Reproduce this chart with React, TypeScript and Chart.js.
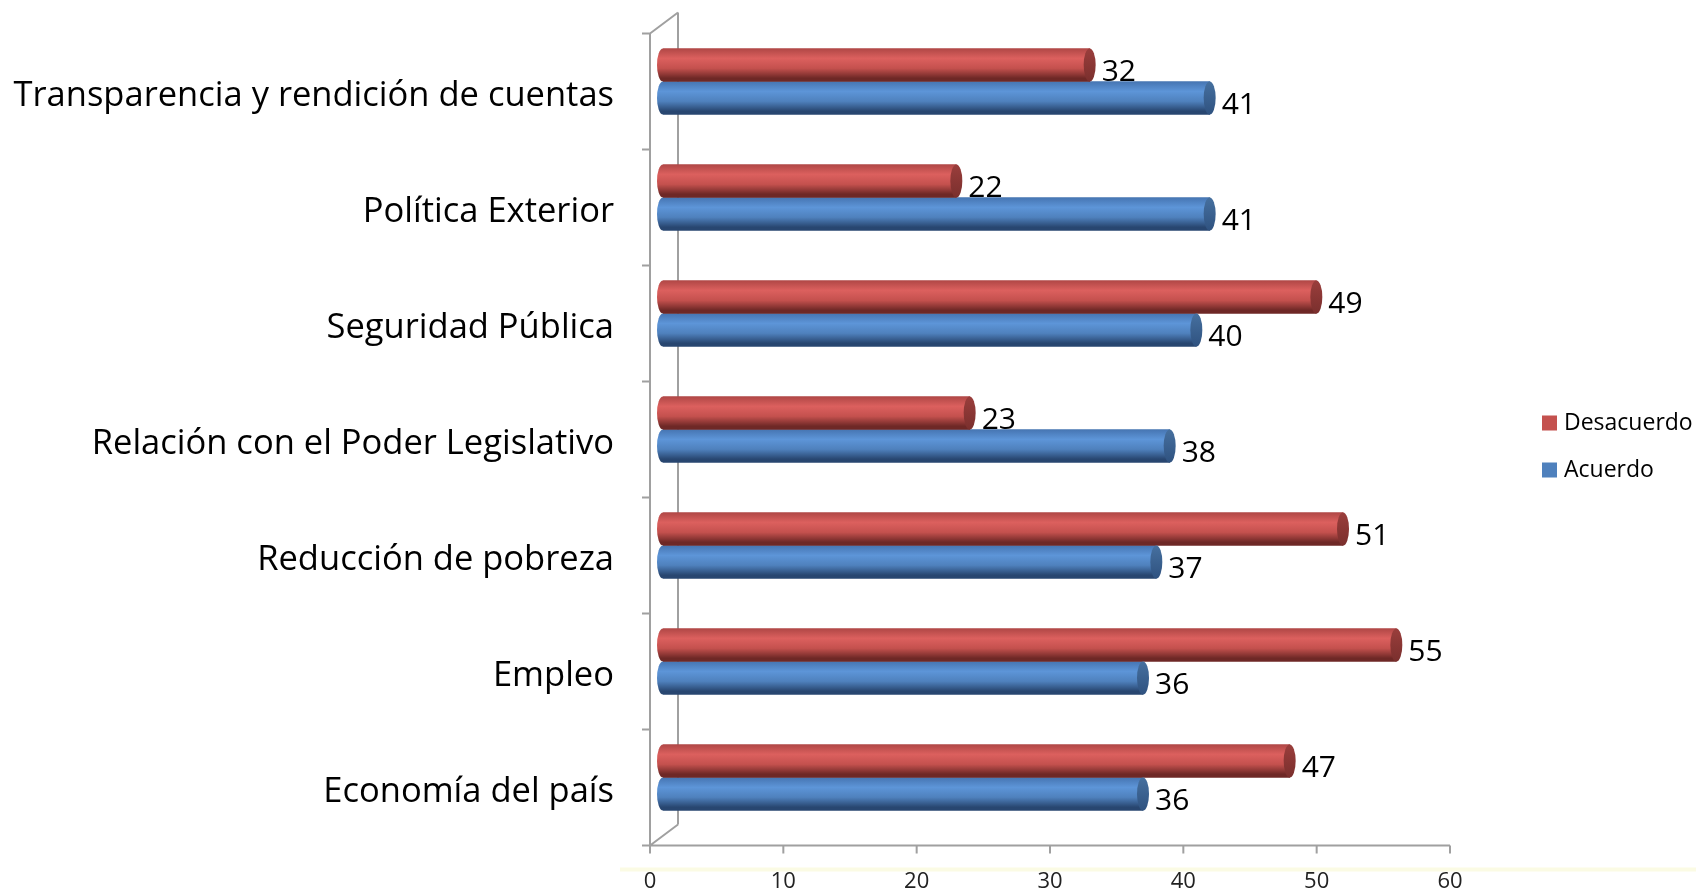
import React, { useEffect, useRef } from "react";
import { Chart, registerables } from "chart.js";

Chart.register(...registerables);

const categories = [
  "Transparencia y rendición de cuentas",
  "Política Exterior",
  "Seguridad Pública",
  "Relación con el Poder Legislativo",
  "Reducción de pobreza",
  "Empleo",
  "Economía del país",
];
const seriesNames = ["Desacuerdo", "Acuerdo"];
const desacuerdo = [32, 22, 49, 23, 51, 55, 47];
const acuerdo = [41, 41, 40, 38, 37, 36, 36];
const xTicks = [0, 10, 20, 30, 40, 50, 60];

const FONT = "'Open Sans', Lato, sans-serif";
const FRONT = { dx: -13, dy: 10 };
const BACK = { dx: 15, dy: -11 };
const BAR = 33;
const CAP_RX = 6;
const W = 1696;
const H = 891;

const palettes = [
  { top: "#b04746", light: "#dc605e", mid: "#c4514e", dark: "#6e2826", cap1: "#9a3e3c", cap2: "#7a2f2d" },
  { top: "#4675b2", light: "#5d95d8", mid: "#4f81bd", dark: "#284670", cap1: "#46709f", cap2: "#2f5280" },
];

function bodyGradient(ctx: CanvasRenderingContext2D, top: number, bottom: number, p: any) {
  const g = ctx.createLinearGradient(0, top, 0, bottom);
  g.addColorStop(0, p.top);
  g.addColorStop(0.3, p.light);
  g.addColorStop(0.6, p.mid);
  g.addColorStop(0.9, p.dark);
  g.addColorStop(1, p.dark);
  return g;
}

const cylinderPlugin = {
  id: "cylinder3d",
  beforeDatasetsDraw(chart: any) {
    const { ctx, chartArea, scales } = chart;
    const xs = scales.x;
    const ys = scales.y;
    const x0 = xs.getPixelForValue(xTicks[0]);
    const xMax = xs.getPixelForValue(xTicks[xTicks.length - 1]);
    const fx = x0 + FRONT.dx;
    const bx = x0 + BACK.dx;
    const fTop = chartArea.top + FRONT.dy;
    const fBot = chartArea.bottom + FRONT.dy;
    const bTop = chartArea.top + BACK.dy;
    const bBot = chartArea.bottom + BACK.dy;
    ctx.save();
    ctx.fillStyle = "#fbfbe4";
    ctx.fillRect(fx - 30, fBot + 22, W - (fx - 30), 4);
    ctx.strokeStyle = "#a0a0a0";
    ctx.lineWidth = 2;
    ctx.beginPath();
    ctx.moveTo(bx, bTop);
    ctx.lineTo(bx, bBot);
    ctx.moveTo(fx, fTop);
    ctx.lineTo(bx, bTop);
    ctx.moveTo(fx, fBot);
    ctx.lineTo(bx, bBot);
    ctx.moveTo(fx, fTop);
    ctx.lineTo(fx, fBot);
    ctx.moveTo(fx, fBot);
    ctx.lineTo(xMax + FRONT.dx, fBot);
    xTicks.forEach((v) => {
      const px = xs.getPixelForValue(v) + FRONT.dx;
      ctx.moveTo(px, fBot);
      ctx.lineTo(px, fBot + 8);
    });
    for (let i = 0; i <= categories.length; i++) {
      const py = ys.getPixelForValue(i - 0.5) + FRONT.dy;
      ctx.moveTo(fx - 8, py);
      ctx.lineTo(fx, py);
    }
    ctx.stroke();
    ctx.restore();
  },
  afterDatasetsDraw(chart: any) {
    const { ctx } = chart;
    ctx.save();
    chart.data.datasets.forEach((ds: any, di: number) => {
      const meta = chart.getDatasetMeta(di);
      const p = palettes[di];
      meta.data.forEach((el: any, i: number) => {
        const { x, y, base, height } = el.getProps(["x", "y", "base", "height"], true);
        const top = y - height / 2;
        const bottom = y + height / 2;
        ctx.beginPath();
        ctx.ellipse(base, y, CAP_RX, height / 2, 0, Math.PI / 2, (3 * Math.PI) / 2);
        ctx.closePath();
        ctx.fillStyle = bodyGradient(ctx, top, bottom, p);
        ctx.fill();
        ctx.beginPath();
        ctx.ellipse(x, y, CAP_RX, height / 2, 0, 0, Math.PI * 2);
        const g = ctx.createLinearGradient(0, top, 0, bottom);
        g.addColorStop(0, p.cap1);
        g.addColorStop(1, p.cap2);
        ctx.fillStyle = g;
        ctx.fill();
        ctx.fillStyle = "#000";
        ctx.font = `30px ${FONT}`;
        ctx.textAlign = "left";
        ctx.textBaseline = "middle";
        ctx.fillText(String(ds.data[i]), x + CAP_RX + 6, y + 7);
      });
    });
    ctx.restore();
  },
  afterDraw(chart: any) {
    const { ctx } = chart;
    ctx.save();
    ctx.font = `23px ${FONT}`;
    ctx.textAlign = "left";
    ctx.textBaseline = "middle";
    chart.data.datasets.forEach((ds: any, di: number) => {
      const cy = 423 + di * 47;
      ctx.fillStyle = palettes[di].mid;
      ctx.fillRect(1542, cy - 7.5, 15, 15);
      ctx.fillStyle = "#000";
      ctx.fillText(ds.label, 1564, cy);
    });
    ctx.restore();
  },
};

export default function App() {
  const ref = useRef<HTMLCanvasElement | null>(null);
  useEffect(() => {
    if (!ref.current) return;
    const makeBg = (di: number) => (c: any) => {
      const chart = c.chart;
      const p = palettes[di];
      if (c.dataIndex === undefined || !chart.chartArea || !chart.scales.y) return p.mid;
      const center = chart.scales.y.getPixelForValue(c.dataIndex);
      const top = center - BAR + di * BAR;
      return bodyGradient(chart.ctx, top, top + BAR, p);
    };
    const chart = new Chart(ref.current, {
      type: "bar",
      data: {
        labels: categories,
        datasets: [
          { label: seriesNames[0], data: desacuerdo, backgroundColor: makeBg(0), borderWidth: 0, barThickness: BAR },
          { label: seriesNames[1], data: acuerdo, backgroundColor: makeBg(1), borderWidth: 0, barThickness: BAR },
        ],
      },
      options: {
        indexAxis: "y",
        animation: false,
        responsive: false,
        maintainAspectRatio: false,
        devicePixelRatio: 1,
        layout: { padding: { top: 23.5, right: W - 1463, bottom: 0, left: 0 } },
        plugins: { legend: { display: false }, tooltip: { enabled: false } },
        scales: {
          x: {
            min: 0,
            max: 60,
            afterBuildTicks: (s: any) => {
              s.ticks = xTicks.map((v) => ({ value: v }));
            },
            ticks: { font: { family: FONT, size: 22 }, color: "#222", labelOffset: FRONT.dx, padding: 25 },
            grid: { display: false },
            border: { display: false },
            afterFit: (s: any) => {
              s.height = 55.5;
              s.paddingLeft = 0;
              s.paddingRight = 0;
            },
          },
          y: {
            ticks: { font: { family: FONT, size: 34.5 }, color: "#000", padding: 41, labelOffset: 15 },
            grid: { display: false },
            border: { display: false },
            afterFit: (s: any) => {
              s.width = 663;
              s.paddingTop = 0;
              s.paddingBottom = 0;
            },
          },
        },
      },
      plugins: [cylinderPlugin],
    } as any);
    return () => chart.destroy();
  }, []);
  return (
    <div style={{ position: "fixed", left: 0, top: 0, width: W, height: H, background: "#fff" }}>
      <canvas ref={ref} width={W} height={H} style={{ display: "block", width: W, height: H }} />
    </div>
  );
}
